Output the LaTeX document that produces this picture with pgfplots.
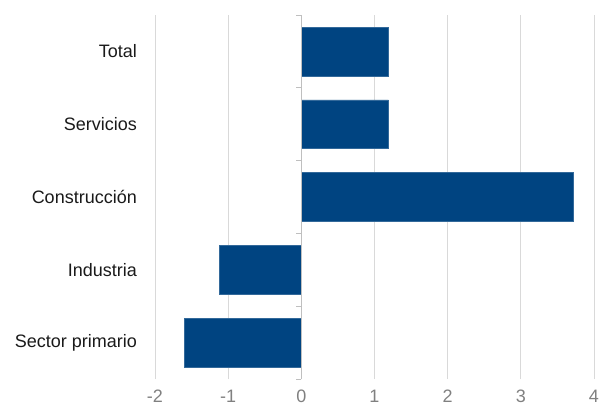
\documentclass[border=0pt]{standalone}
\usepackage{pgfplots}
\pgfplotsset{compat=1.18}
\usepackage{fontspec}
\setmainfont{Liberation Sans}
\definecolor{barblue}{HTML}{004481}
\definecolor{gridgray}{HTML}{D9D9D9}
\definecolor{axgray}{HTML}{BFBFBF}
\definecolor{ticklab}{HTML}{808080}
\definecolor{catlab}{HTML}{1A1A1A}
\begin{document}
\fontsize{18bp}{21bp}\selectfont
\begin{tikzpicture}
\useasboundingbox (-155bp,-31bp) rectangle (444bp,379bp);
\begin{axis}[
  at={(0,0)}, anchor=south west,
  scale only axis,
  width=439bp, height=364bp,
  xbar, bar width=0.67,
  xmin=-2, xmax=4, ymin=-0.5, ymax=4.5,
  xtick={-2,-1,0,1,2,3,4},
  ytick={0,1,2,3,4},
  yticklabels={Sector primario,Industria,Construcción,Servicios,Total},
  axis line style={draw=none},
  major tick length=0pt,
  xmajorgrids, grid style={gridgray, line width=0.8pt},
  xticklabel style={font=\fontsize{18bp}{21bp}\selectfont, text=ticklab, yshift=-10bp, inner sep=1bp},
  yticklabel style={font=\fontsize{18bp}{21bp}\selectfont, text=catlab, xshift=-12bp},
  /pgf/number format/assume math mode=true,
  clip=false,
]
\addplot[fill=barblue, draw=barblue!80!white, line width=0.4pt] coordinates {
  (-1.6,0) (-1.12,1) (3.72,2) (1.19,3) (1.19,4)
};
\draw[axgray, line width=0.8pt] (axis cs:0,-0.5) -- (axis cs:0,4.5);
\pgfplotsinvokeforeach{-0.5,0.5,1.5,2.5,3.5,4.5}{
  \draw[axgray, line width=0.8pt] (axis cs:0,#1) -- ([xshift=-5bp]axis cs:0,#1);
}
\end{axis}
\end{tikzpicture}
\end{document}
